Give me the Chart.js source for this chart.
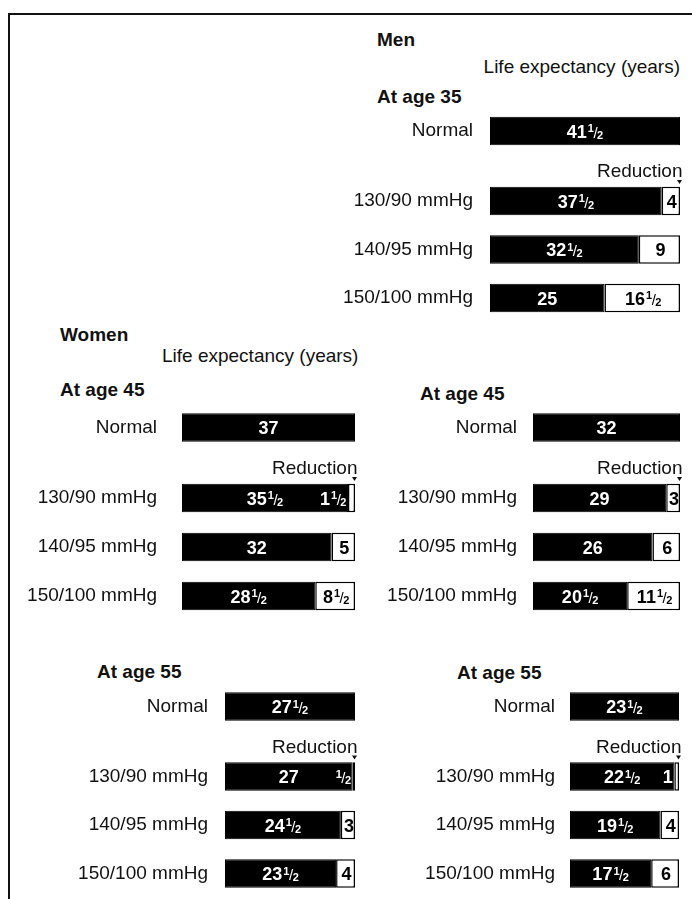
<!DOCTYPE html>
<html><head><meta charset="utf-8">
<script src="https://cdn.jsdelivr.net/npm/chart.js@4.4.1/dist/chart.umd.min.js"></script>
<style>
html,body{margin:0;padding:0;background:#fff;width:692px;height:899px;overflow:hidden;}
body{position:relative;font-family:'Liberation Sans',Arial,sans-serif;color:#111;}
.frame{position:absolute;left:8px;top:13px;width:720px;height:920px;border-left:2px solid #111;border-top:2px solid #111;}
.t{position:absolute;font-size:19px;line-height:19px;white-space:nowrap;}
.b{font-weight:bold;}
canvas{position:absolute;}
</style></head><body>
<div class="frame"></div>
<div class="t b" style="left:377px;top:30px">Men</div>
<div class="t" style="right:12px;top:57px">Life expectancy (years)</div>
<div class="t b" style="left:377px;top:87px">At age 35</div>
<div class="t b" style="left:60px;top:325px">Women</div>
<div class="t" style="left:162px;top:346px">Life expectancy (years)</div>
<div class="t b" style="left:60px;top:380px">At age 45</div>
<div class="t b" style="left:420px;top:384px">At age 45</div>
<div class="t b" style="left:97px;top:662px">At age 55</div>
<div class="t b" style="left:457px;top:663px">At age 55</div>
<script>
// ---------- data ----------
const normalLabel = ["Normal"];
const pressureLabels = ["130/90 mmHg", "140/95 mmHg", "150/100 mmHg"];
const reductionTitle = "Reduction";

const men35Normal = [41.5];
const men35Expectancy = [37.5, 32.5, 25];
const men35Reduction = [4, 9, 16.5];

const women45aNormal = [37];
const women45aExpectancy = [35.5, 32, 28.5];
const women45aReduction = [1.5, 5, 8.5];

const women45bNormal = [32];
const women45bExpectancy = [29, 26, 20.5];
const women45bReduction = [3, 6, 11.5];

const women55aNormal = [27.5];
const women55aExpectancy = [27, 24.5, 23.5];
const women55aReduction = [0.5, 3, 4];

const women55bNormal = [23.5];
const women55bExpectancy = [22.5, 19.5, 17.5];
const women55bReduction = [1, 4, 6];

// ---------- layout ----------
const FONT = "'Liberation Sans', Arial, sans-serif";
const BAR_H = 28.5;
const panels = [
  {normal: men35Normal, exp: men35Expectancy, red: men35Reduction, barLeft: 490, barRight: 680, labelRight: 473, normalY: 131, firstY: 201, step: 48.5},
  {normal: women45aNormal, exp: women45aExpectancy, red: women45aReduction, barLeft: 182, barRight: 355, labelRight: 157, normalY: 427.5, firstY: 498, step: 49},
  {normal: women45bNormal, exp: women45bExpectancy, red: women45bReduction, barLeft: 533, barRight: 680, labelRight: 517, normalY: 427.5, firstY: 498, step: 49},
  {normal: women55aNormal, exp: women55aExpectancy, red: women55aReduction, barLeft: 225, barRight: 355, labelRight: 208, normalY: 706.5, firstY: 776.5, step: 48.5},
  {normal: women55bNormal, exp: women55bExpectancy, red: women55bReduction, barLeft: 570, barRight: 679, labelRight: 555, normalY: 706.5, firstY: 776.5, step: 48.5}
];

function drawHalf(ctx, v, x, y, color, align) {
  const whole = Math.floor(v + 1e-9);
  const half = (v - whole) >= 0.5 - 1e-9;
  const main = whole > 0 ? String(whole) : '';
  const fMain = 'bold 18px ' + FONT, fSmall = 'bold 11px ' + FONT, fSlash = '15px ' + FONT;
  ctx.save();
  ctx.fillStyle = color; ctx.textBaseline = 'alphabetic'; ctx.textAlign = 'left';
  ctx.font = fMain; const wMain = ctx.measureText(main).width;
  let w1 = 0, wS = 0, w2 = 0, wFrac = 0;
  const gap = main ? 1 : 0;
  if (half) {
    ctx.font = fSmall; w1 = ctx.measureText('1').width; w2 = ctx.measureText('2').width;
    ctx.font = fSlash; wS = ctx.measureText('/').width;
    wFrac = gap + w1 + wS + w2 - 1;
  }
  const total = wMain + wFrac;
  const x0 = align === 'center' ? x - total / 2 : x - total;
  const base = y + 6.5;
  ctx.font = fMain; ctx.fillText(main, x0, base);
  if (half) {
    let xx = x0 + wMain + gap;
    ctx.font = fSmall; ctx.fillText('1', xx, base - 5.5); xx += w1 - 0.5;
    ctx.font = fSlash; ctx.fillText('/', xx, base); xx += wS - 0.5;
    ctx.font = fSmall; ctx.fillText('2', xx, base + 1);
  }
  ctx.restore();
}

const labelPlugin = {
  id: 'halfLabels',
  afterDatasetsDraw(chart, args, opts) {
    const ctx = chart.ctx;
    const ds = chart.data.datasets;
    const m0 = chart.getDatasetMeta(0);
    const m1 = ds.length > 1 ? chart.getDatasetMeta(1) : null;
    m0.data.forEach((el, i) => {
      const l0 = Math.min(el.x, el.base), r0 = Math.max(el.x, el.base);
      drawHalf(ctx, ds[0].data[i], (l0 + r0) / 2, el.y, '#fff', 'center');
      if (m1) {
        const e1 = m1.data[i];
        const l1 = Math.min(e1.x, e1.base), r1 = Math.max(e1.x, e1.base);
        if (r1 - l1 < 10) drawHalf(ctx, ds[1].data[i], l1 - 1.5, el.y, '#fff', 'right');
        else drawHalf(ctx, ds[1].data[i], (l1 + r1) / 2 + 1, el.y, '#000', 'center');
      }
    });
    if (opts && opts.header) {
      const ca = chart.chartArea;
      const n = chart.data.labels.length;
      const step = (ca.bottom - ca.top) / n;
      const fy = ca.top + step / 2;
      ctx.save();
      ctx.font = '19px ' + FONT; ctx.fillStyle = '#111';
      ctx.textAlign = 'right'; ctx.textBaseline = 'alphabetic';
      ctx.fillText(opts.header, ca.right + 2.5, fy - 24);
      ctx.beginPath();
      ctx.moveTo(ca.right - 3, fy - 21);
      ctx.lineTo(ca.right + 2, fy - 21);
      ctx.lineTo(ca.right - 0.5, fy - 17);
      ctx.closePath(); ctx.fill();
      ctx.restore();
    }
  }
};

function makeChart(p, labels, datasets, areaTop, areaBottom, extraTop, header) {
  const canvasLeft = p.labelRight - 165;
  const canvasTop = Math.floor(areaTop) - extraTop;
  const height = Math.ceil(areaBottom) + 2 - canvasTop;
  const padTop = areaTop - canvasTop;
  const padBottom = canvasTop + height - areaBottom;
  const width = p.barRight + 8 - canvasLeft;
  const c = document.createElement('canvas');
  c.width = width; c.height = height;
  c.style.left = canvasLeft + 'px'; c.style.top = canvasTop + 'px';
  c.style.width = width + 'px'; c.style.height = height + 'px';
  document.body.appendChild(c);
  new Chart(c, {
    type: 'bar',
    data: {labels: labels, datasets: datasets},
    options: {
      indexAxis: 'y', responsive: false, animation: false, devicePixelRatio: 1,
      layout: {padding: {top: padTop, bottom: padBottom, left: 0, right: 8}},
      plugins: {legend: {display: false}, tooltip: {enabled: false}, halfLabels: {header: header}},
      scales: {
        x: {type: 'linear', stacked: true, min: 0, max: p.normal[0], display: false},
        y: {
          stacked: true,
          grid: {display: false, drawTicks: false},
          border: {display: false},
          ticks: {padding: p.barLeft - p.labelRight, color: '#111', font: {family: FONT, size: 19}, autoSkip: false},
          afterFit: (s) => { s.width = p.barLeft - canvasLeft; s.paddingTop = 0; s.paddingBottom = 0; }
        }
      }
    },
    plugins: [labelPlugin]
  });
}

panels.forEach(p => {
  const cp = BAR_H / p.step;
  // Normal bar
  makeChart(p, normalLabel, [
    {data: p.normal, backgroundColor: '#000', borderColor: '#000', borderWidth: 1, borderSkipped: false, barPercentage: 1, categoryPercentage: cp}
  ], p.normalY - p.step / 2, p.normalY + p.step / 2, 2, null);
  // Blood pressure bars
  makeChart(p, pressureLabels, [
    {data: p.exp, backgroundColor: '#000', borderColor: '#000', borderWidth: 1, borderSkipped: false, barPercentage: 1, categoryPercentage: cp},
    {data: p.red, backgroundColor: '#fff', borderColor: '#000', borderWidth: 1.5, borderSkipped: false, barPercentage: 1, categoryPercentage: cp}
  ], p.firstY - p.step / 2, p.firstY + p.step * 2.5, 45, reductionTitle);
});
</script>
</body></html>
